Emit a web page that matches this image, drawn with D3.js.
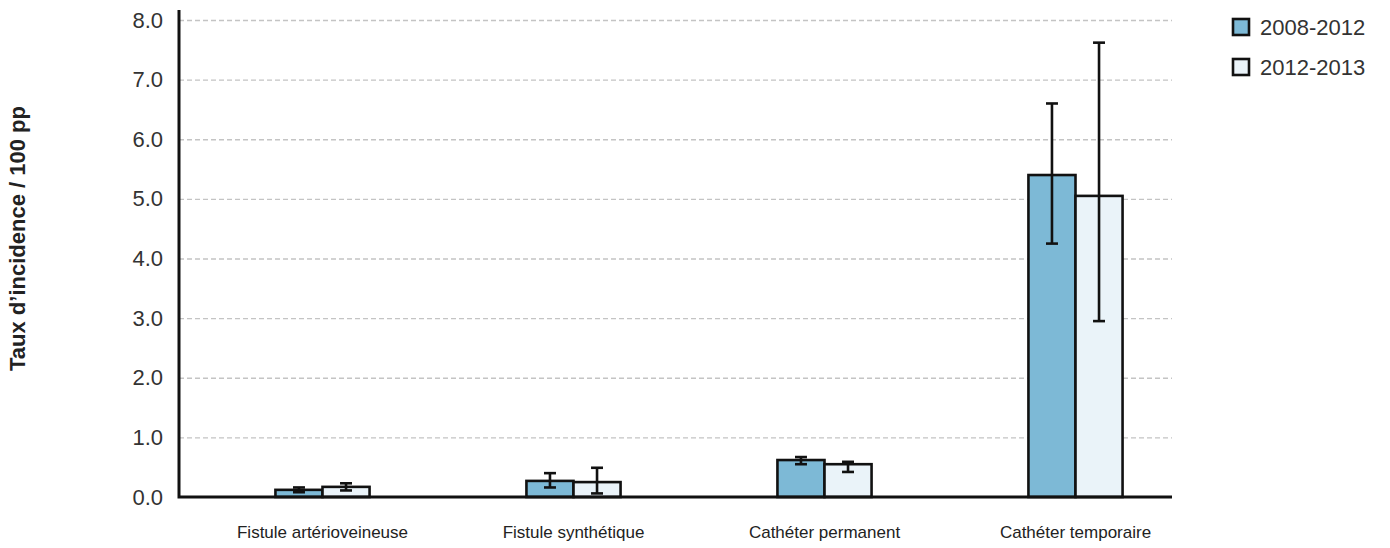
<!DOCTYPE html>
<html>
<head>
<meta charset="utf-8">
<script src="https://cdn.jsdelivr.net/npm/d3@7"></script>
<style>
  html, body { margin: 0; padding: 0; background: #fff; }
  svg { display: block; font-family: "Liberation Sans", Arial, Helvetica, sans-serif; }
</style>
</head>
<body>
<svg id="chart" width="1390" height="548"></svg>
<script>
// Incidence rates per 100 patient-periods, by vascular access type
const categories = ["Fistule artérioveineuse", "Fistule synthétique", "Cathéter permanent", "Cathéter temporaire"];
const seriesNames = ["2008-2012", "2012-2013"];

const rate0812 = [0.12, 0.27, 0.62, 5.40];
const low0812  = [0.08, 0.16, 0.55, 4.25];
const high0812 = [0.16, 0.40, 0.67, 6.60];

const rate1213 = [0.17, 0.25, 0.55, 5.05];
const low1213  = [0.11, 0.06, 0.42, 2.95];
const high1213 = [0.23, 0.49, 0.59, 7.62];

const yTicks = [0, 1, 2, 3, 4, 5, 6, 7, 8];
const seriesColors = ["#7db9d6", "#eaf3f9"];

const series = [
  { name: seriesNames[0], rate: rate0812, low: low0812, high: high0812, color: seriesColors[0] },
  { name: seriesNames[1], rate: rate1213, low: low1213, high: high1213, color: seriesColors[1] }
];

const svg = d3.select("#chart");

const plot = { left: 179, right: 1172, top: 20, bottom: 497, axisTop: 10 };

const y = d3.scaleLinear().domain([0, 8]).range([plot.bottom, plot.top]);

const x0 = d3.scaleBand()
  .domain(categories)
  .range([197, 1201])
  .paddingInner(0.625)
  .paddingOuter(0.3125);

const x1 = d3.scaleBand()
  .domain(seriesNames)
  .range([0, x0.bandwidth()]);

// Horizontal dashed grid lines
svg.append("g")
  .attr("transform", `translate(${plot.left},0)`)
  .call(d3.axisLeft(y).tickValues(yTicks.slice(1)).tickSize(-(plot.right - plot.left)).tickFormat(""))
  .call(g => g.select(".domain").remove())
  .call(g => g.selectAll("line")
    .attr("stroke", "#c4c4c4")
    .attr("stroke-width", 1.4)
    .attr("stroke-dasharray", "5,3"));

// Y tick labels
svg.append("g")
  .attr("transform", `translate(${plot.left},0)`)
  .call(d3.axisLeft(y).tickValues(yTicks).tickSize(0).tickPadding(16).tickFormat(d3.format(".1f")))
  .call(g => g.select(".domain").remove())
  .call(g => g.selectAll("text")
    .attr("fill", "#333")
    .style("font-size", "22px")
    .style("font-family", "'Liberation Sans', Arial, sans-serif"));

// Bars
const groups = svg.append("g")
  .selectAll("g")
  .data(categories)
  .join("g")
  .attr("transform", d => `translate(${x0(d)},0)`);

series.forEach(s => {
  groups.append("rect")
    .attr("x", () => x1(s.name))
    .attr("y", (d, i) => y(s.rate[i]))
    .attr("width", x1.bandwidth())
    .attr("height", (d, i) => y(0) - y(s.rate[i]))
    .attr("fill", s.color)
    .attr("stroke", "#111")
    .attr("stroke-width", 2.6);
});

// Confidence interval whiskers
const capHalf = 6;
series.forEach(s => {
  const cx = x1(s.name) + x1.bandwidth() / 2;
  groups.append("line")
    .attr("x1", cx).attr("x2", cx)
    .attr("y1", (d, i) => y(s.low[i]))
    .attr("y2", (d, i) => y(s.high[i]))
    .attr("stroke", "#111").attr("stroke-width", 2.6);
  ["low", "high"].forEach(k => {
    groups.append("line")
      .attr("x1", cx - capHalf).attr("x2", cx + capHalf)
      .attr("y1", (d, i) => y(s[k][i]))
      .attr("y2", (d, i) => y(s[k][i]))
      .attr("stroke", "#111").attr("stroke-width", 2.6);
  });
});

// Axis lines
svg.append("path")
  .attr("d", `M${plot.left},${plot.axisTop}V${plot.bottom}H${plot.right}`)
  .attr("fill", "none")
  .attr("stroke", "#111")
  .attr("stroke-width", 3);

// Category labels
svg.append("g")
  .attr("transform", `translate(0,${plot.bottom})`)
  .call(d3.axisBottom(x0).tickSize(0).tickPadding(29))
  .call(g => g.select(".domain").remove())
  .call(g => g.selectAll("text")
    .attr("fill", "#222")
    .style("font-size", "17px")
    .style("font-family", "'Liberation Sans', Arial, sans-serif"));

// Y axis title
svg.append("text")
  .attr("transform", `translate(25,${(plot.top + plot.bottom) / 2 - 20}) rotate(-90)`)
  .attr("text-anchor", "middle")
  .attr("fill", "#222")
  .style("font-size", "22px")
  .style("font-weight", "bold")
  .text("Taux d\u2019incidence / 100 pp");

// Legend
const legend = svg.append("g").attr("transform", "translate(1233,0)");
const legendRows = legend.selectAll("g")
  .data(series)
  .join("g")
  .attr("transform", (d, i) => `translate(0,${27 + i * 40})`);
legendRows.append("rect")
  .attr("x", 0).attr("y", -8)
  .attr("width", 16).attr("height", 16)
  .attr("fill", d => d.color)
  .attr("stroke", "#111")
  .attr("stroke-width", 2.6);
legendRows.append("text")
  .attr("x", 27).attr("y", 0)
  .attr("dy", "0.35em")
  .attr("fill", "#333")
  .style("font-size", "22px")
  .text(d => d.name);
</script>
</body>
</html>
